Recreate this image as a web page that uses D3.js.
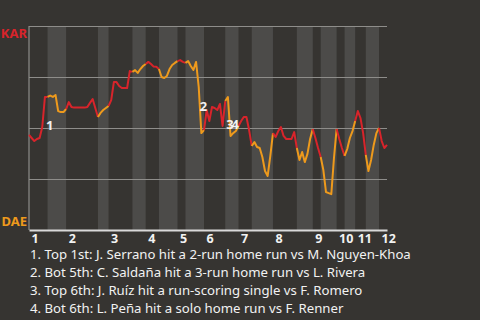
<!DOCTYPE html>
<html>
<head>
<meta charset="utf-8">
<script src="https://cdn.jsdelivr.net/npm/d3@7"></script>
<style>
  html, body { margin: 0; padding: 0; background: #363431; }
  svg { display: block; font-family: "Noto Sans", sans-serif; }
</style>
</head>
<body>
<svg id="chart" width="480" height="320"></svg>
<script>
// Teams: away (top of the chart) and home (bottom of the chart)
const teams = ["KAR", "DAE"];
const innings = [1, 2, 3, 4, 5, 6, 7, 8, 9, 10, 11, 12];

// Plays per half-inning, in order: T1, B1, T2, B2, ...
const halfInningEvents = [7, 7, 12, 4, 9, 5, 5, 7, 3, 7, 8, 5, 5, 8, 9, 6, 3, 6, 3, 4, 4, 5, 3];

// KAR win probability (%) before the first pitch and after every play
const winProbKAR = [
  46.6, 45.1, 43.6, 44.6, 45.1, 50.5, 65.2, 65.2,            // T1
  65.9, 65.2, 66.2, 58.3, 57.8, 57.8, 59.3,                  // B1
  62.7, 60.3, 60.0, 60.0, 60.0, 60.0, 60.0, 60.3, 62.3, 64.2, 59.8, 55.4, // T2
  57.4, 58.8, 59.8, 60.8,                                    // B2
  63.7, 72.5, 72.5, 70.6, 69.6, 69.6, 69.6, 77.9, 77.5,      // T3
  78.4, 77.0, 78.9, 80.4, 81.4,                              // B3
  82.4, 81.4, 80.1, 80.0, 78.9,                              // T4
  75.0, 74.5, 75.5, 78.9, 80.9, 81.9, 82.8,                  // B4
  83.3, 82.4, 81.9,                                          // T5
  82.8, 80.4, 78.4, 82.4, 70.1, 47.5, 49.0,                  // B5
  58.8, 53.4, 60.3, 59.8, 58.8, 61.8, 51.0, 63.2,            // T6
  65.2, 46.1, 47.5, 48.5, 51.0,                              // B6
  53.4, 55.4, 55.4, 49.0, 41.2,                              // T7
  43.1, 40.7, 40.2, 35.8, 28.9, 26.5, 36.3, 47.5,            // B7
  45.6, 48.5, 50.5, 46.1, 44.6, 44.6, 44.6, 48.0, 40.2,      // T8
  34.3, 38.2, 33.3, 37.3, 44.6, 49.5,                        // B8
  45.1, 40.2, 35.8,                                          // T9
  29.4, 18.6, 18.1, 17.6, 35.3, 49.5,                        // B9
  44.6, 40.2, 36.3,                                          // T10
  39.7, 45.1, 48.5, 53.4,                                    // B10
  58.3, 54.9, 47.5, 36.8,                                    // T11
  28.9, 34.3, 41.7, 47.5, 50.0,                              // B11
  43.6, 40.2, 41.7                                           // T12
];

// Key plays: index of the play in winProbKAR and its description
const keyPlayEvents = [6, 65, 74, 76];
const keyPlayNotes = [
  "Top 1st: J. Serrano hit a 2-run home run vs M. Nguyen-Khoa",
  "Bot 5th: C. Saldaña hit a 3-run home run vs L. Rivera",
  "Top 6th: J. Ruíz hit a run-scoring single vs F. Romero",
  "Bot 6th: L. Peña hit a solo home run vs F. Renner"
];

// ---- layout ----
const svg = d3.select("#chart");
const plot = { left: 29, right: 387, top: 26, bottom: 230 };
const colors = { away: "#d8242b", home: "#ee9a1c", band: "#4c4b49", grid: "#8e8d8a", text: "#f2f2f2" };

const nEvents = d3.sum(halfInningEvents);
const starts = [0];
halfInningEvents.forEach(n => starts.push(starts[starts.length - 1] + n));

const x = d3.scaleLinear().domain([0, nEvents]).range([plot.left, plot.right]);
const y = d3.scaleLinear().domain([0, 100]).range([plot.bottom, plot.top]);

// bottom halves get a lighter band
svg.append("g").selectAll("rect")
  .data(halfInningEvents.map((n, i) => ({ i, a: starts[i], b: starts[i + 1] })).filter(d => d.i % 2 === 1))
  .join("rect")
  .attr("x", d => x(d.a))
  .attr("width", d => x(d.b) - x(d.a))
  .attr("y", plot.top)
  .attr("height", plot.bottom - plot.top)
  .attr("fill", colors.band);

// horizontal gridlines every 25%
const yAxis = svg.append("g")
  .attr("transform", `translate(${plot.left},0)`)
  .call(d3.axisLeft(y).tickValues([25, 50, 75, 100]).tickSize(-(plot.right - plot.left)).tickFormat(""));
yAxis.select(".domain").remove();
yAxis.selectAll(".tick line").attr("stroke", colors.grid).attr("stroke-width", 1.2);

// left edge
svg.append("line")
  .attr("x1", plot.left).attr("x2", plot.left)
  .attr("y1", plot.top).attr("y2", plot.bottom)
  .attr("stroke", colors.grid).attr("stroke-width", 1.2);

// win probability line, coloured by which team is batting
const line = d3.line().x(d => x(d.i)).y(d => y(d.v)).curve(d3.curveLinear);
halfInningEvents.forEach((n, h) => {
  const pts = d3.range(starts[h], starts[h + 1] + 1).map(i => ({ i, v: winProbKAR[i] }));
  svg.append("path")
    .attr("d", line(pts))
    .attr("fill", "none")
    .attr("stroke", h % 2 === 0 ? colors.away : colors.home)
    .attr("stroke-width", 2)
    .attr("stroke-linejoin", "round");
});

// x axis: inning numbers at the start of each inning
const inningStarts = innings.map((inn, k) => starts[2 * k]);
const xAxis = svg.append("g")
  .attr("transform", `translate(0,${plot.bottom})`)
  .call(d3.axisBottom(x).tickValues(inningStarts).tickSize(0)
    .tickFormat((d, k) => innings[k]));
xAxis.select(".domain").attr("stroke", "#d9d9d9").attr("stroke-width", 2);
xAxis.selectAll("text")
  .attr("text-anchor", "start")
  .attr("dx", 2)
  .attr("y", 4)
  .attr("fill", colors.text)
  .style("font-size", "12.5px")
  .style("font-weight", "bold")
  .style("font-family", "'Noto Sans', sans-serif");

// team labels
svg.append("text")
  .attr("x", plot.left - 2).attr("y", y(100) + 12)
  .attr("text-anchor", "end")
  .attr("fill", colors.away)
  .style("font-size", "13px").style("font-weight", "bold")
  .text(teams[0]);
svg.append("text")
  .attr("x", plot.left - 2).attr("y", y(0) - 4)
  .attr("text-anchor", "end")
  .attr("fill", colors.home)
  .style("font-size", "13px").style("font-weight", "bold")
  .text(teams[1]);

// numbered markers next to the key plays
const markerNudge = [13, -4, 11, 8];
svg.append("g").selectAll("text")
  .data(keyPlayEvents)
  .join("text")
  .attr("x", (e, k) => x(e) + (k === 1 ? -1.5 : 1))
  .attr("y", (e, k) => (y(winProbKAR[e - 1]) + y(winProbKAR[e])) / 2 + markerNudge[k])
  .attr("dy", "0.35em")
  .attr("fill", colors.text)
  .style("font-size", "13px").style("font-weight", "bold")
  .text((e, k) => k + 1);

// notes under the chart
svg.append("g").selectAll("text")
  .data(keyPlayNotes)
  .join("text")
  .attr("x", plot.left + 1)
  .attr("y", (d, k) => 259 + k * 18)
  .attr("fill", colors.text)
  .style("font-size", "13.2px")
  .text((d, k) => `${k + 1}. ${d}`);
</script>
</body>
</html>
